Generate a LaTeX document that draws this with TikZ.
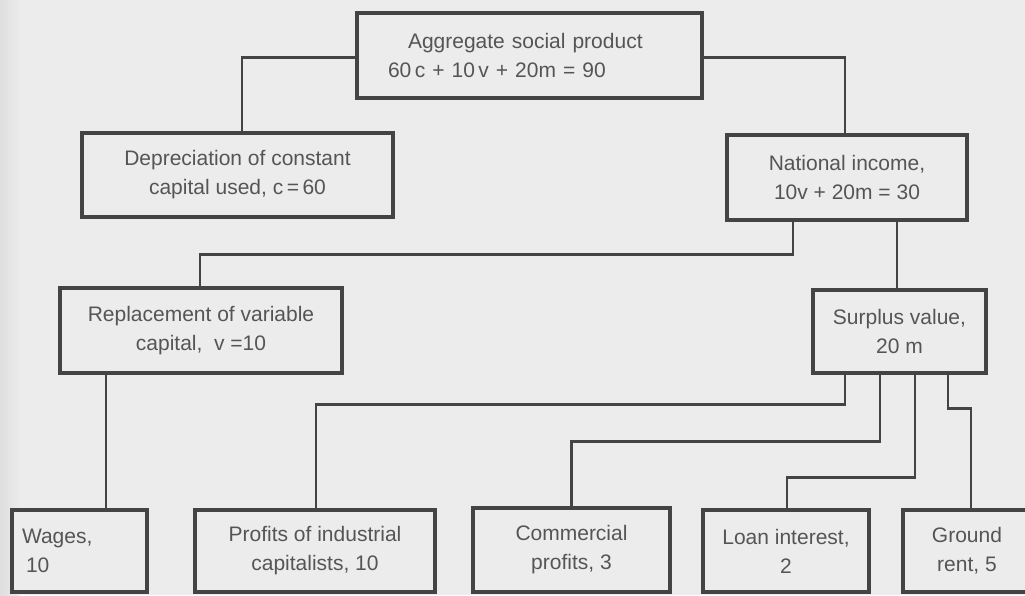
\documentclass[tikz,border=0pt]{standalone}
\usepackage{fontspec}
\setmainfont{Liberation Sans}
\definecolor{bg}{RGB}{236,236,236}
\definecolor{ln}{RGB}{68,68,68}
\definecolor{tx}{RGB}{85,85,85}
\begin{document}
\begin{tikzpicture}[x=1pt,y=1pt,
  box/.style={draw=ln, line width=3.2pt, fill=bg, inner sep=0pt, text=tx,
              font=\fontsize{21}{29}\selectfont, align=center},
  conn/.style={draw=ln, line width=2.6pt}]
\fill[bg] (0,0) rectangle (1025,595);
\useasboundingbox (0,0) rectangle (1025,595);
\clip (0,0) rectangle (1025,595);
\shade[left color=black!13, right color=bg] (0,0) rectangle (20,595);

\node[box, minimum width=345pt, minimum height=85pt, text width=283pt, align=left] (agg) at (529.5,539.5)
  {\hspace*{20pt}Aggregate social product\\60\,c + 10\,v + 20m = 90};
\node[box, minimum width=311pt, minimum height=84pt] (dep) at (237.5,420)
  {Depreciation of constant\\capital used, c\,=\,60};
\node[box, minimum width=240pt, minimum height=85pt] (nat) at (847,417.5)
  {National income,\\10v + 20m = 30};
\node[box, minimum width=282pt, minimum height=85pt] (rep) at (201,264.5)
  {Replacement of variable\\capital,\ \ v =10};
\node[box, minimum width=173pt, minimum height=83pt] (sur) at (899.5,263.5)
  {Surplus value,\\20 m};
\node[box, minimum width=135pt, minimum height=82pt, text width=115pt, align=left] (wag) at (79.5,44)
  {Wages,\\\hspace*{4pt}10};
\node[box, minimum width=240pt, minimum height=82pt] (pro) at (315,44)
  {Profits of industrial\\capitalists, 10};
\node[box, minimum width=197pt, minimum height=84pt] (com) at (571.5,45)
  {Commercial\\profits, 3};
\node[box, minimum width=166pt, minimum height=82pt] (loa) at (786,44)
  {Loan interest,\\2};
\node[box, minimum width=128pt, minimum height=82pt] (gro) at (967,44)
  {Ground\\rent, 5};

\draw[conn] ([yshift=-2pt]agg.west) -| ([xshift=4.5pt]dep.north);
\draw[conn] ([yshift=-2pt]agg.east) -| ([xshift=-2pt]nat.north);
\draw[conn] ([xshift=-54pt]nat.south) -- ++(0,-33) -| ([xshift=-1pt]rep.north);
\draw[conn] ([xshift=50pt]nat.south) -- ([xshift=50pt]nat.south |- sur.north);
\draw[conn] ([xshift=-95pt]rep.south) -- ([xshift=-95pt]rep.south |- wag.north);
\draw[conn] ([xshift=-54.5pt]sur.south) -- ++(0,-30) -| ([xshift=1pt]pro.north);
\draw[conn] ([xshift=-19.5pt]sur.south) -- ++(0,-67) -| (com.north);
\draw[conn] ([xshift=15.5pt]sur.south) -- ++(0,-103) -| ([xshift=1pt]loa.north);
\draw[conn] ([xshift=48.5pt]sur.south) -- ++(0,-34) -| ([xshift=4pt]gro.north);
\end{tikzpicture}
\end{document}
